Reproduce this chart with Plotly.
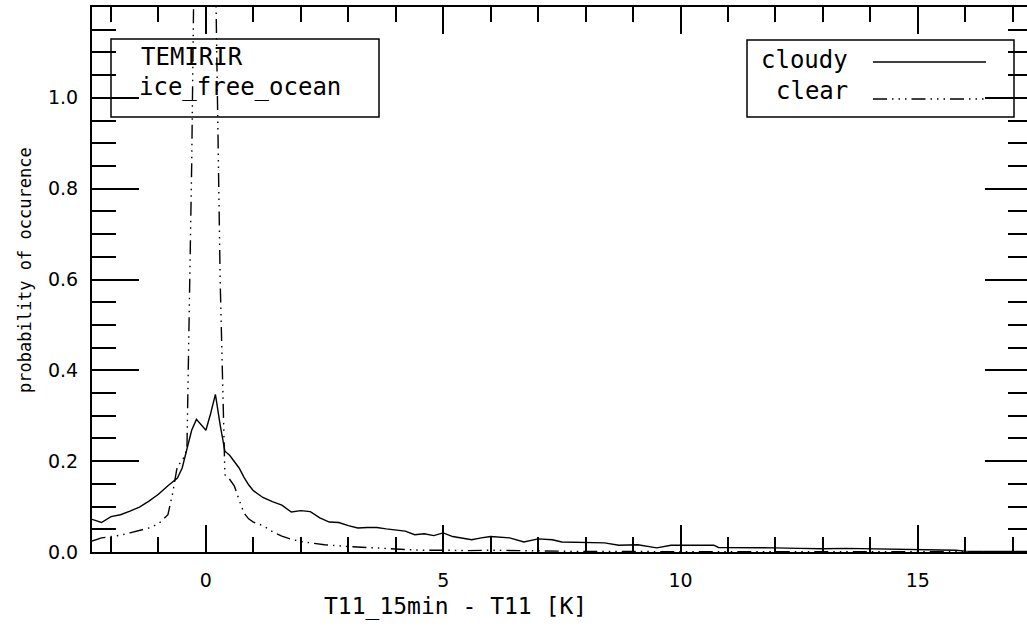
import plotly.graph_objects as go

# Probability of occurrence of the 15-minute T11 change, cloudy pixels
cloudy_dt = [-2.4, -2.2, -2.0, -1.8, -1.6, -1.4, -1.2, -1.0, -0.8, -0.6, -0.5, -0.4,
             -0.3, -0.2, -0.1, 0.0, 0.1, 0.2, 0.3, 0.4, 0.5, 0.6, 0.7, 0.8, 0.9, 1.0,
             1.2, 1.4, 1.6, 1.8, 2.0, 2.2, 2.4, 2.6, 2.8, 3.0, 3.2, 3.4, 3.6, 3.8, 4.0,
             4.2, 4.4, 4.6, 4.8, 5.0, 5.2, 5.4, 5.6, 5.8, 6.0, 6.4, 6.7, 7.0, 7.3, 7.5,
             8.0, 8.4, 8.7, 9.1, 9.5, 9.8, 10.2, 10.7, 10.8, 11.0, 11.5, 12.0, 12.5,
             13.0, 13.5, 14.0, 14.5, 15.0, 15.5, 15.8, 16.0, 16.5, 17.0, 17.4]
cloudy_prob = [0.072, 0.065, 0.078, 0.082, 0.090, 0.099, 0.112, 0.127, 0.146, 0.163, 0.185, 0.225,
               0.268, 0.292, 0.280, 0.268, 0.305, 0.347, 0.280, 0.222, 0.213, 0.200, 0.185, 0.165, 0.148, 0.135,
               0.120, 0.111, 0.103, 0.088, 0.091, 0.089, 0.075, 0.066, 0.065, 0.058, 0.053, 0.054, 0.054, 0.051, 0.049,
               0.046, 0.038, 0.040, 0.036, 0.042, 0.034, 0.031, 0.027, 0.031, 0.034, 0.031, 0.022, 0.029, 0.027, 0.022,
               0.020, 0.020, 0.015, 0.016, 0.009, 0.015, 0.015, 0.015, 0.010, 0.010, 0.009, 0.009, 0.008,
               0.007, 0.008, 0.007, 0.006, 0.006, 0.005, 0.004, 0.002, 0.001, 0.001, 0.001]

# Same quantity for clear-sky pixels
clear_dt = [-2.4, -2.2, -2.0, -1.8, -1.6, -1.4, -1.2, -1.0, -0.8, -0.7, -0.6, -0.5, -0.4,
            -0.3, -0.2, -0.1, 0.0, 0.1, 0.2, 0.3, 0.4, 0.5, 0.6, 0.7, 0.8, 0.9, 1.0,
            1.2, 1.4, 1.6, 1.8, 2.0, 2.5, 3.0, 3.5, 4.0, 4.5, 5.0, 5.5, 6.0, 6.5, 7.0,
            8.0, 9.0, 10.0, 12.0, 14.0, 16.0, 17.4]
clear_prob = [0.024, 0.031, 0.034, 0.037, 0.042, 0.047, 0.053, 0.062, 0.082, 0.130, 0.190, 0.200, 0.225,
              0.850, 1.600, 3.000, 3.500, 2.500, 1.300, 0.600, 0.170, 0.160, 0.145, 0.115, 0.086, 0.073, 0.066,
              0.058, 0.045, 0.035, 0.028, 0.023, 0.016, 0.012, 0.009, 0.006, 0.004, 0.004, 0.003, 0.004, 0.003, 0.002,
              0.001, 0.001, 0.0005, 0.0005, 0.0005, 0.0005, 0.0005]

x_ticks = [0, 5, 10, 15]
x_tick_labels = ["0", "5", "10", "15"]
y_ticks = [0.0, 0.2, 0.4, 0.6, 0.8, 1.0]
y_tick_labels = ["0.0", "0.2", "0.4", "0.6", "0.8", "1.0"]

series_names = ["cloudy", "clear"]
box_lines = ["TEMIRIR", "ice_free_ocean"]
x_title = "T11_15min - T11 [K]"
y_title = "probability of occurence"

# page geometry (pixels)
W, H = 1027, 630
L, R, T, B = 92, 0, 7, 78
PW, PH = W - L - R, H - T - B


def px(x):
    return (x - L) / PW


def py(y):
    return (H - B - y) / PH


DASH_3DOT = "14px,5px,1.5px,5px,1.5px,5px,1.5px,5px"
INK = "black"
TICK_FONT = dict(family="DejaVu Sans", size=19, color=INK)
TEXT_FONT = dict(family="DejaVu Sans Mono", size=24, color=INK)

fig = go.Figure()
fig.add_trace(go.Scatter(x=cloudy_dt, y=cloudy_prob, mode="lines", name=series_names[0],
                         line=dict(color=INK, width=1.4), hoverinfo="skip"))
fig.add_trace(go.Scatter(x=clear_dt, y=clear_prob, mode="lines", name=series_names[1], yaxis="y2",
                         line=dict(color=INK, width=1.4, dash=DASH_3DOT), hoverinfo="skip"))

fig.update_layout(
    width=W, height=H,
    margin=dict(l=L, r=R, t=T, b=B, pad=0),
    paper_bgcolor="white", plot_bgcolor="white",
    showlegend=False,
    xaxis=dict(range=[-2.4, 17.3], showgrid=False, zeroline=False,
               showline=True, linecolor=INK, linewidth=2, mirror="ticks",
               ticks="inside", ticklen=27, tickwidth=1.5, tickcolor=INK,
               tickmode="array", tickvals=x_ticks, ticktext=x_tick_labels,
               tickfont=TICK_FONT, ticklabelstandoff=10,
               minor=dict(tickmode="linear", tick0=0, dtick=1, ticks="inside",
                          ticklen=15, tickwidth=1.5, tickcolor=INK, showgrid=False)),
    yaxis=dict(range=[0, 1.2], showgrid=False, zeroline=False,
               showline=True, linecolor=INK, linewidth=2, mirror=False,
               ticks="inside", ticklen=47, tickwidth=1.5, tickcolor=INK,
               tickmode="array", tickvals=y_ticks, ticktext=y_tick_labels,
               tickfont=TICK_FONT, ticklabelstandoff=8,
               minor=dict(tickmode="linear", tick0=0, dtick=0.05, ticks="inside",
                          ticklen=24, tickwidth=1.5, tickcolor=INK, showgrid=False)),
    yaxis2=dict(range=[0, 1.2], overlaying="y", side="right", showgrid=False, zeroline=False,
                showline=False, showticklabels=False,
                ticks="inside", ticklen=42, tickwidth=1.5, tickcolor=INK,
                tickmode="array", tickvals=y_ticks,
                minor=dict(tickmode="linear", tick0=0, dtick=0.05, ticks="inside",
                           ticklen=19, tickwidth=1.5, tickcolor=INK, showgrid=False)),
)

# boxed labels
box = dict(type="rect", xref="paper", yref="paper", line=dict(color=INK, width=1.5),
           fillcolor="rgba(0,0,0,0)")
fig.add_shape(**box, x0=px(111), x1=px(379), y0=py(117), y1=py(39))
fig.add_shape(**box, x0=px(747), x1=px(1014), y0=py(117), y1=py(40))
fig.add_shape(type="line", xref="paper", yref="paper", x0=px(873), x1=px(986),
              y0=py(62), y1=py(62), line=dict(color=INK, width=1.4))
fig.add_shape(type="line", xref="paper", yref="paper", x0=px(873), x1=px(986),
              y0=py(99), y1=py(99), line=dict(color=INK, width=1.4, dash=DASH_3DOT))

ann = dict(xref="paper", yref="paper", showarrow=False, font=TEXT_FONT, yanchor="middle")
fig.add_annotation(**ann, text=box_lines[0], x=px(139), y=py(57), xanchor="left")
fig.add_annotation(**ann, text=box_lines[1], x=px(137), y=py(87), xanchor="left")
fig.add_annotation(**ann, text=series_names[0], x=px(850), y=py(60), xanchor="right")
fig.add_annotation(**ann, text=series_names[1], x=px(850), y=py(91), xanchor="right")

fig.add_annotation(xref="paper", yref="paper", showarrow=False, text=x_title,
                   font=dict(family="DejaVu Sans Mono", size=23, color=INK),
                   x=px(455), y=py(606), xanchor="center", yanchor="middle")
fig.add_annotation(xref="paper", yref="paper", showarrow=False, text=y_title, textangle=-90,
                   font=dict(family="DejaVu Sans Mono", size=17, color=INK),
                   x=px(25), y=py(270), xanchor="center", yanchor="middle")

fig.write_html("out.html", config={"displayModeBar": False})
